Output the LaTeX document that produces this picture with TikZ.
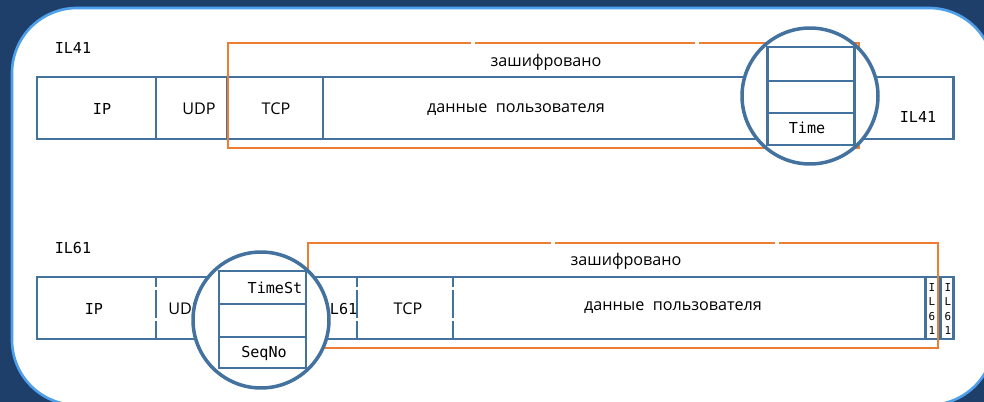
\documentclass[tikz,border=0pt]{standalone}
\usepackage{fontspec}
\setmainfont{Open Sans}
\newfontfamily\monofont{DejaVu Sans Mono}
\usepackage{xcolor}
\usepackage{tikz}

\definecolor{slide}{HTML}{1F3F6B}
\definecolor{rim}{HTML}{4FA0EC}
\definecolor{wire}{HTML}{44729F}
\definecolor{crypt}{HTML}{ED7D31}

\begin{document}
\begin{tikzpicture}[
    x=0.02cm, y=-0.02cm,
    field/.style={draw=wire, line width=1.7pt},
    broken/.style={draw=wire, line width=1.7pt, dash pattern=on 5.7pt off 1.7pt on 15.9pt off 1.7pt on 12pt},
    frame/.style={draw=crypt, line width=1.6pt},
    lens/.style={circle, draw=wire, fill=white, line width=2pt, minimum size=2.72cm, inner sep=0pt},
    mono/.style={font=\monofont\fontsize{8.6}{10}\selectfont, inner sep=0pt},
    sans/.style={font=\fontsize{9.2}{11}\selectfont, inner sep=0pt},
    tiny/.style={font=\monofont\fontsize{6.2}{8}\selectfont, align=center, inner sep=0pt}
]
\useasboundingbox (0,0) rectangle (984,402);
\fill[slide] (0,0) rectangle (984,402);
\draw[rim, fill=white, line width=1.5pt, rounded corners=1.3cm] (12,8) rectangle (994,405);

% IL41
\node[mono] (name41) at (73,48) {IL41};
\draw[field] (37,77) rectangle (953,139);
\draw[field] (156,77) -- (156,139);
\draw[field] (227,77) -- (227,139);
\draw[field] (323,77) -- (323,139);
\draw[frame] (471,43) -- (228,43) -- (228,148) -- (859,148) -- (859,43) -- (699,43);
\draw[frame] (475,43) -- (695,43);

\node[mono] (ip41) at (102,109) {IP};
\node[sans] (udp41) at (199,109) {UDP};
\node[sans] (tcp41) at (276,109) {TCP};
\node[sans] (data41) at (516,110) {данные\ \ пользователя};
\node[sans] (enc41) at (546,62) {зашифровано};
\node[mono] (tail41) at (918,117) {IL41};

\node[lens] (lens41) at (810,96) {};
\draw[field] (767,47) rectangle (854,145);
\draw[field] (767,81) -- (854,81);
\draw[field] (767,113) -- (854,113);
\node[mono] (time41) at (807,128) {Time};

% IL61
\node[mono] (name61) at (73,248) {IL61};
\draw[field] (37,277) rectangle (953,339);
\draw[broken] (156,277) -- (156,339);
\draw[broken] (357,277) -- (357,339);
\draw[broken] (453,277) -- (453,339);
\draw[field] (925,277) -- (925,339);
\draw[field] (940,277) -- (940,339);
\draw[frame] (551,243) -- (308,243) -- (308,348) -- (938,348) -- (938,243) -- (779,243);
\draw[frame] (555,243) -- (775,243);

\node[mono] (ip61) at (94,309) {IP};
\node[sans] (udp61) at (185,309) {UDP};
\node[mono] (hdr61) at (339,309) {IL61};
\node[sans] (tcp61) at (408,309) {TCP};
\node[sans] (data61) at (673,308) {данные\ \ пользователя};
\node[sans] (enc61) at (626,261) {зашифровано};
\node[tiny] (tailA) at (932,309) {I\\L\\6\\1};
\node[tiny] (tailB) at (948,309) {I\\L\\6\\1};

\node[lens] (lens61) at (261,320) {};
\draw[field] (219,271) rectangle (306,368);
\draw[field] (219,304) -- (306,304);
\draw[field] (219,337) -- (306,337);
\node[mono] (stamp61) at (275,288) {TimeSt};
\node[mono] (seq61) at (264,353) {SeqNo};
\end{tikzpicture}
\end{document}
